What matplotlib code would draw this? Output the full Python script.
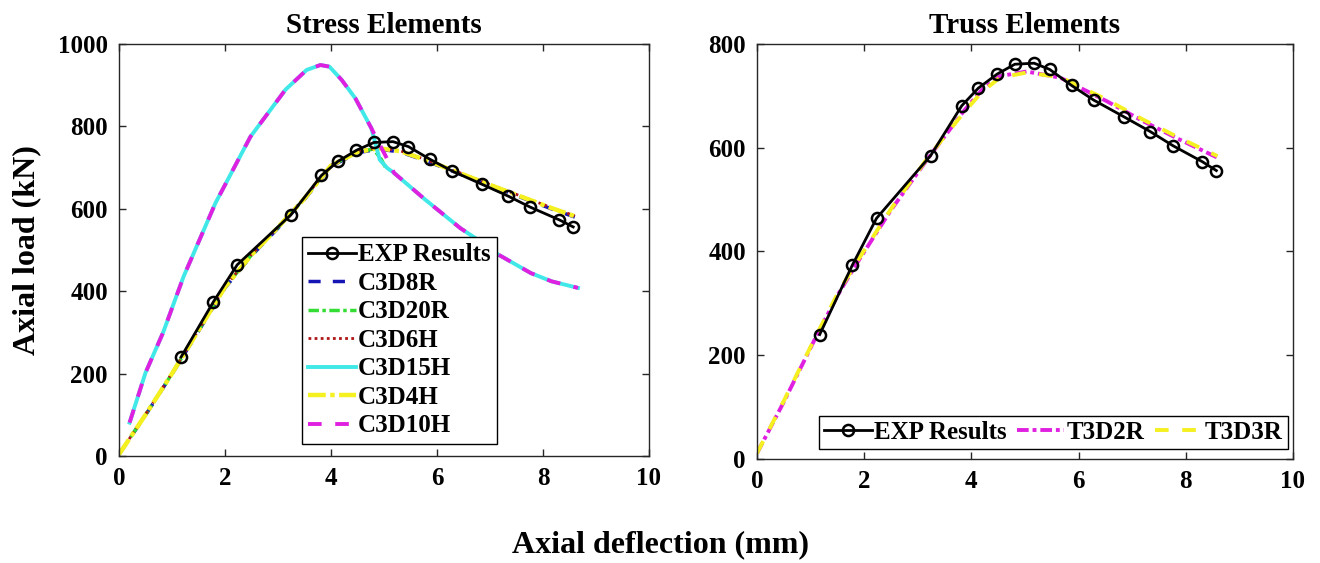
import numpy as np
import matplotlib
matplotlib.use("Agg")
import matplotlib.pyplot as plt

plt.rcParams["font.family"] = ["Liberation Serif", "DejaVu Serif"]
plt.rcParams["font.weight"] = "bold"

# experimental results (same test in both panels)
exp_x = [1.17, 1.78, 2.23, 3.24, 3.82, 4.13, 4.48, 4.81, 5.17, 5.46, 5.87, 6.28, 6.84, 7.34, 7.76, 8.31, 8.57]
exp_y = [240, 374, 464, 585, 681, 715, 742, 761, 763, 751, 720, 692, 660, 631, 604, 573, 556]

# stress elements - main group
s_x = [0, 0.5, 1.0, 1.5, 2.0, 2.5, 3.0, 3.5, 4.0, 4.5, 4.9, 5.3, 5.8, 6.4, 7.0, 7.6, 8.2, 8.6]
c3d4h_y = [4, 100, 200, 305, 410, 488, 555, 625, 705, 738, 747, 740, 718, 688, 658, 629, 600, 582]
c3d8r_y = [4, 99, 199, 303, 408, 486, 553, 623, 703, 736, 745, 738, 716, 686, 656, 627, 598, 580]
c3d6h_y = [4, 101, 201, 306, 411, 489, 556, 626, 706, 739, 748, 741, 719, 689, 659, 630, 601, 583]

c3d20r_x = [0, 0.5, 1.0, 1.5, 2.0, 2.5, 3.0, 3.5, 4.0, 4.5, 4.8, 4.95, 5.05]
c3d20r_y = [4, 100, 200, 305, 410, 488, 555, 625, 705, 738, 745, 720, 695]

# stress elements - high peak group
c3d15h_x = [0.2, 0.5, 0.83, 1.22, 1.82, 2.48, 3.14, 3.54, 3.8, 3.97, 4.2, 4.46, 4.76,
            4.92, 5.06, 5.19, 5.78, 6.44, 6.77, 7.1, 7.77, 8.16, 8.66]
c3d15h_y = [81, 202, 299, 436, 614, 775, 889, 937, 949, 945, 913, 868, 796,
            719, 699, 687, 622, 553, 525, 493, 444, 424, 408]
c3d10h_x = [0.2, 0.5, 0.83, 1.22, 1.82, 2.48, 3.14, 3.54, 3.8, 3.97, 4.2, 4.46, 4.76,
            4.9, 5.02, 5.19, 5.78, 6.44, 6.77, 7.1, 7.77, 8.16, 8.66]
c3d10h_y = [81, 202, 299, 436, 614, 775, 889, 937, 949, 945, 913, 868, 796,
            760, 731, 687, 622, 553, 525, 493, 444, 424, 408]

# truss elements
t_x = [0, 0.5, 1.07, 1.5, 1.8, 2.5, 3.2, 3.86, 4.2, 4.53, 5.03, 5.66, 6.52, 7.19, 7.86, 8.59]
t3d2r_y = [11, 110, 229, 315, 367, 480, 581, 671, 712, 738, 747, 735, 690, 652, 617, 581]
t3d3r_y = [11, 112, 231, 318, 370, 482, 583, 668, 708, 735, 745, 736, 693, 655, 620, 584]

fig = plt.figure(figsize=(13.2, 5.63), dpi=100)
ax1 = fig.add_axes([119 / 1320, 107 / 563, 530 / 1320, 412 / 563])
ax2 = fig.add_axes([757 / 1320, 104 / 563, 536 / 1320, 415 / 563])

exp_style = dict(color="black", lw=2, marker="o", ms=8, mfc="none", mew=1.8)

ax1.plot(s_x, c3d8r_y, color="#1515b5", lw=2.5, ls=(0, (3.5, 3.5)), label="C3D8R")
ax1.plot(c3d20r_x, c3d20r_y, color="#33dd33", lw=2.5, ls=(0, (3, 1, 1, 1)), label="C3D20R")
ax1.plot(s_x, c3d6h_y, color="#b01515", lw=2, ls=(0, (1, 1.2)), label="C3D6H")
ax1.plot(s_x, c3d4h_y, color="#f5f020", lw=3.2, ls=(0, (4, 1.0, 1, 1.0)), label="C3D4H")
ax1.plot(c3d15h_x, c3d15h_y, color="#40e8e8", lw=2.8, label="C3D15H")
ax1.plot(c3d10h_x, c3d10h_y, color="#e020e0", lw=2.8, ls=(0, (3.5, 3.5)), label="C3D10H")
ax1.plot(exp_x, exp_y, label="EXP Results", **exp_style)

ax2.plot(t_x, t3d2r_y, color="#e020e0", lw=2.8, ls=(0, (3, 1, 1, 1)), label="T3D2R")
ax2.plot(t_x, t3d3r_y, color="#f5f020", lw=2.8, ls=(0, (3.5, 3.5)), label="T3D3R")
ax2.plot(exp_x, exp_y, label="EXP Results", **exp_style)

ax1.set_xlim(0, 10)
ax1.set_ylim(0, 1000)
ax1.set_yticks([0, 200, 400, 600, 800, 1000])
ax2.set_xlim(0, 10)
ax2.set_ylim(0, 800)
ax2.set_yticks([0, 200, 400, 600, 800])

for ax in (ax1, ax2):
    ax.set_xticks([0, 2, 4, 6, 8, 10])
    ax.tick_params(direction="in", top=True, right=True, length=5, width=1,
                   labelsize=18, colors="#262626", labelcolor="black", pad=8)
    for sp in ax.spines.values():
        sp.set_color("#262626")
        sp.set_linewidth(1)
    for lbl in ax.get_xticklabels() + ax.get_yticklabels():
        lbl.set_fontweight("bold")

ax1.set_title("Stress Elements", fontsize=21, fontweight="bold", pad=8)
ax2.set_title("Truss Elements", fontsize=21, fontweight="bold", pad=8)
ax1.set_ylabel("Axial load (kN)", fontsize=23, fontweight="bold", labelpad=12)
fig.text(0.5, 0.032, "Axial deflection (mm)", fontsize=23, fontweight="bold",
         ha="center", va="center")

h, l = ax1.get_legend_handles_labels()
order = ["EXP Results", "C3D8R", "C3D20R", "C3D6H", "C3D15H", "C3D4H", "C3D10H"]
hh = [h[l.index(o)] for o in order]
leg1 = ax1.legend(hh, order, loc="lower left", bbox_to_anchor=(0.345, 0.03),
                  fontsize=18, frameon=True, fancybox=False, edgecolor="black",
                  framealpha=1, handlelength=1.9, handletextpad=0.1,
                  labelspacing=0.22, borderpad=0.25, borderaxespad=0)
leg1.get_frame().set_linewidth(1)

h2, l2 = ax2.get_legend_handles_labels()
order2 = ["EXP Results", "T3D2R", "T3D3R"]
hh2 = [h2[l2.index(o)] for o in order2]
leg2 = ax2.legend(hh2, order2, loc="lower right", bbox_to_anchor=(0.99, 0.025), ncol=3,
                  fontsize=18, frameon=True, fancybox=False, edgecolor="black",
                  framealpha=1, handlelength=1.9, handletextpad=0.1,
                  columnspacing=0.4, borderpad=0.2, borderaxespad=0)
leg2.get_frame().set_linewidth(1)

fig.savefig("out.png", dpi=100)
